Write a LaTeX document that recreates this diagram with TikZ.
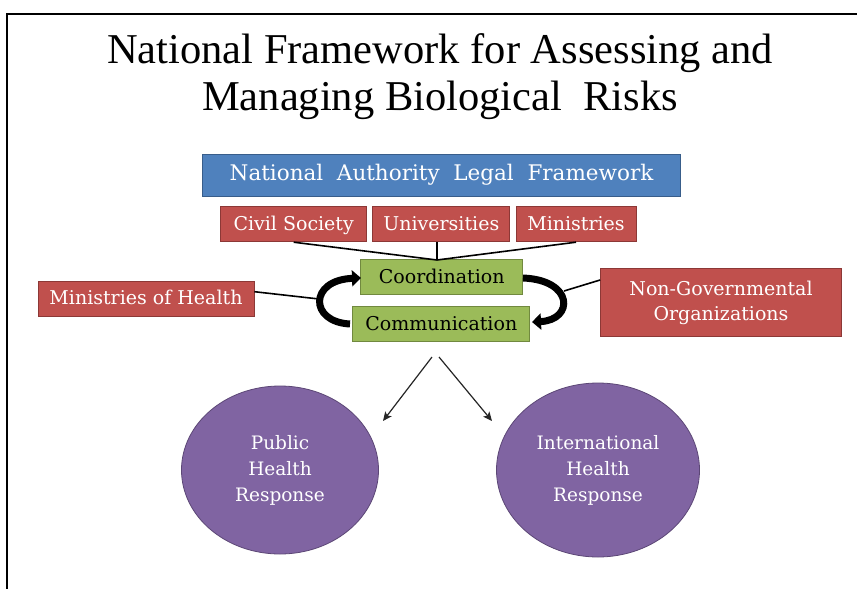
\documentclass[tikz,border=0pt]{standalone}
\usepackage{fontspec}
\setmainfont{Liberation Serif}
\newfontfamily\boxfont{DejaVu Serif}
\usetikzlibrary{arrows.meta,shapes.geometric}
\definecolor{ofblue}{HTML}{4F81BD}
\definecolor{ofblueb}{HTML}{385D8A}
\definecolor{ofred}{HTML}{C0504D}
\definecolor{ofredb}{HTML}{8C3836}
\definecolor{ofgreen}{HTML}{9BBB59}
\definecolor{ofgreenb}{HTML}{71893F}
\definecolor{ofpurple}{HTML}{8064A2}
\definecolor{ofpurpleb}{HTML}{5C4776}
\tikzset{
  bluebox/.style={fill=ofblue, draw=ofblueb, line width=0.8pt, text=white, inner sep=0pt,
    font=\boxfont\fontsize{21.5}{25}\selectfont, text height=0.9em, text depth=0pt},
  redbox/.style={fill=ofred, draw=ofredb, line width=0.8pt, text=white, inner sep=0pt,
    font=\boxfont\fontsize{19}{25}\selectfont, align=center},
  oneline/.style={text height=1.15em, text depth=0pt},
  greenbox/.style={fill=ofgreen, draw=ofgreenb, line width=0.8pt, text=black, inner sep=0pt,
    font=\boxfont\fontsize{19}{25}\selectfont, text height=1.3em, text depth=0pt},
  bubble/.style={ellipse, fill=ofpurple, draw=ofpurpleb, line width=0.8pt, text=white, inner sep=0pt,
    font=\boxfont\fontsize{18.5}{26}\selectfont, align=center},
  link/.style={draw=black, line width=1.6pt},
  cycle/.style={draw=black, line width=7pt, -{Triangle[width=16pt,length=9pt]}},
  thinarrow/.style={draw=black!85, line width=1.2pt, -{Stealth[length=9pt,width=8pt,inset=2pt]}},
  framebar/.style={draw=black, line width=2.4pt},
  titletext/.style={font=\fontsize{42.5}{47}\selectfont, inner sep=0pt, anchor=base}
}
\begin{document}
\begin{tikzpicture}[x=1pt,y=-1pt]
\useasboundingbox (0,0) rectangle (857,589);
\fill[white] (0,0) rectangle (857,589);
% frame
\coordinate (f1) at (7,589);
\coordinate (f2) at (7,14);
\coordinate (f3) at (857,14);
\draw[framebar] (f1) -- (f2) -- (f3);
% title
\node[titletext] (title1) at (440,63) {National Framework for Assessing and};
\node[titletext] (title2) at (440,110) {Managing Biological\ \ Risks};
% top box
\node[bluebox, minimum width=478, minimum height=42] (auth) at (441.5,175.5)
  {National\ \ Authority\ \ Legal\ \ Framework};
% red boxes
\node[redbox, oneline, minimum width=146, minimum height=35] (cs) at (293.7,224.3) {Civil Society};
\node[redbox, oneline, minimum width=137, minimum height=35] (uni) at (441.3,224.3) {Universities};
\node[redbox, oneline, minimum width=120, minimum height=35] (min) at (576,224.3) {Ministries};
\node[redbox, oneline, minimum width=216, minimum height=35] (moh) at (146,298.5) {Ministries of Health};
\node[redbox, minimum width=241, minimum height=68] (ngo) at (721,302.5) {\raisebox{2pt}{Non-Governmental}\\\raisebox{2pt}{Organizations}};
% green boxes
\node[greenbox, minimum width=162, minimum height=35] (coord) at (441.7,276.7) {Coordination};
\node[greenbox, minimum width=177, minimum height=35] (comm) at (441.3,324.2) {Communication};
% ellipses
\node[bubble, minimum width=197, minimum height=168] (phr) at (280,470) {Public\\Health\\Response};
\node[bubble, minimum width=203, minimum height=174] (ihr) at (598,470) {International\\Health\\Response};
% links to coordination
\coordinate (ctop) at (437,260);
\draw[link] (cs.south) -- (ctop);
\draw[link] (uni.south -| ctop) -- (ctop);
\draw[link] (min.south) -- (ctop);
% cycle arrows
\coordinate (cl1) at (350,324);
\coordinate (cl2) at (361,278);
\coordinate (cr1) at (523,278);
\coordinate (cr2) at (532,322);
\draw[cycle] (cl1) .. controls (309,322) and (309,280) .. (cl2);
\draw[cycle] (cr1) .. controls (574,280) and (574,320) .. (cr2);
\coordinate (la) at (319,299);
\coordinate (ra) at (564,291);
\draw[link] (moh.east |- 0,291.7) -- (la);
\draw[link] (ngo.west |- 0,280) -- (ra);
% arrows to responses
\coordinate (a1) at (432,357);
\coordinate (a2) at (439,357);
\coordinate (e1) at (383,421);
\coordinate (e2) at (492,421);
\draw[thinarrow] (a1) -- (e1);
\draw[thinarrow] (a2) -- (e2);
\end{tikzpicture}
\end{document}
